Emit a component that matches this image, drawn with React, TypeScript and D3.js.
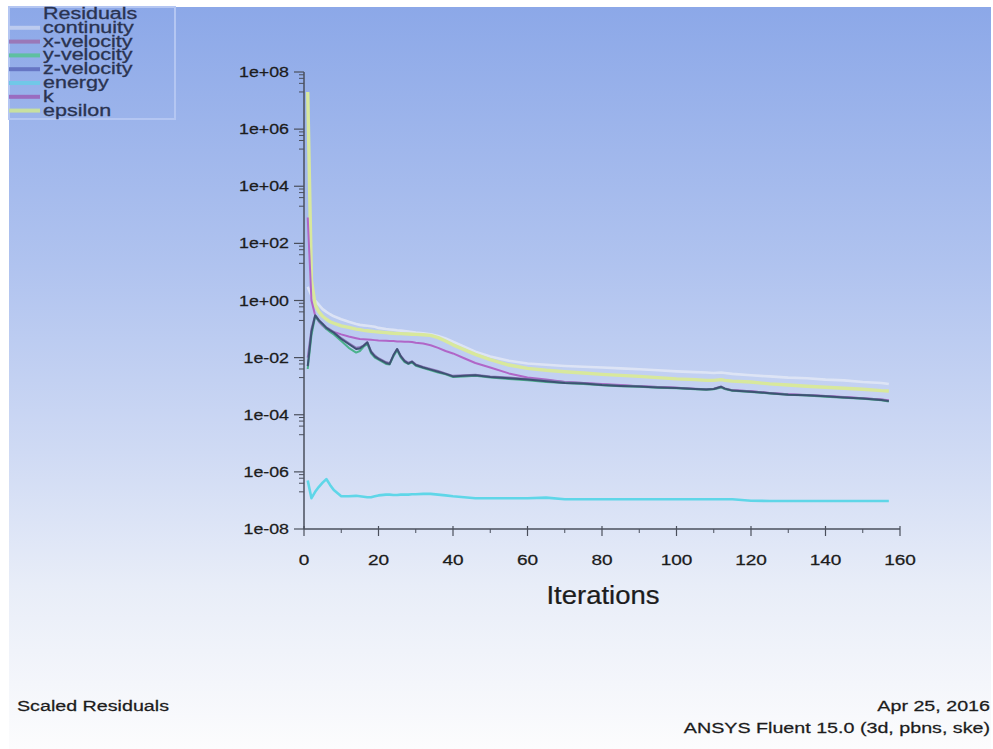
import React from "react";
import * as d3 from "d3";

// ---------- data ----------
const iterations = [1,2,3,4,5,6,7,8,10,12,14,15,16,17,18,19,20,22,23,24,25,26,27,28,29,30,32,34,36,38,40,43,46,50,55,60,65,70,75,80,85,90,95,100,105,108,110,112,113,115,120,125,130,135,140,145,150,155,157];

const continuity = [3,1.5,1.0,0.7,0.5,0.4,0.33,0.28,0.22,0.18,0.15,0.14,0.135,0.13,0.125,0.12,0.11,0.1,0.097,0.094,0.09,0.088,0.085,0.082,0.079,0.075,0.071,0.066,0.057,0.047,0.036,0.024,0.016,0.011,0.0078,0.0062,0.0056,0.0051,0.0048,0.0045,0.0042,0.0039,0.0036,0.0033,0.0031,0.003,0.0029,0.003,0.0029,0.0027,0.0024,0.0022,0.002,0.0019,0.0017,0.0016,0.0014,0.0013,0.0012];

const xVelocity = [0.01,0.1,0.31,0.21,0.155,0.115,0.095,0.078,0.048,0.032,0.022,0.023,0.027,0.035,0.017,0.012,0.0095,0.007,0.0064,0.012,0.02,0.0115,0.008,0.0066,0.0074,0.0058,0.0047,0.004,0.0034,0.0028,0.0023,0.0024,0.0025,0.0022,0.002,0.0018,0.0016,0.0014,0.0013,0.00115,0.00106,0.001,0.00093,0.00088,0.00082,0.00078,0.00082,0.00097,0.00084,0.00072,0.00066,0.00058,0.00052,0.00049,0.00045,0.00041,0.00038,0.00034,0.00031];

const yVelocity = [0.004,0.06,0.28,0.19,0.14,0.1,0.08,0.065,0.038,0.022,0.015,0.017,0.024,0.03,0.014,0.01,0.0085,0.006,0.0058,0.011,0.018,0.01,0.007,0.006,0.0068,0.0052,0.0043,0.0036,0.003,0.0026,0.0021,0.0022,0.0023,0.002,0.0018,0.0016,0.0014,0.0013,0.0012,0.00108,0.001,0.00095,0.00088,0.00084,0.00078,0.00075,0.00078,0.0009,0.0008,0.00069,0.00063,0.00056,0.0005,0.00047,0.00043,0.00039,0.00036,0.00032,0.00029];

const zVelocity = [0.005,0.08,0.3,0.2,0.15,0.11,0.09,0.075,0.045,0.03,0.02,0.021,0.026,0.034,0.016,0.011,0.009,0.0065,0.006,0.012,0.02,0.011,0.0075,0.0062,0.0072,0.0055,0.0045,0.0038,0.0032,0.0027,0.0022,0.0023,0.0024,0.0021,0.0019,0.0017,0.0015,0.0013,0.00125,0.0011,0.00102,0.00097,0.0009,0.00086,0.0008,0.00076,0.0008,0.00095,0.00082,0.0007,0.00064,0.00057,0.0005,0.00048,0.00044,0.0004,0.00037,0.00033,0.0003];

const energy = [5e-7,1.2e-7,2e-7,3e-7,4.2e-7,5.6e-7,3.5e-7,2.3e-7,1.4e-7,1.4e-7,1.45e-7,1.4e-7,1.35e-7,1.3e-7,1.3e-7,1.4e-7,1.5e-7,1.6e-7,1.6e-7,1.55e-7,1.55e-7,1.6e-7,1.6e-7,1.6e-7,1.65e-7,1.65e-7,1.7e-7,1.7e-7,1.6e-7,1.5e-7,1.4e-7,1.3e-7,1.2e-7,1.2e-7,1.2e-7,1.2e-7,1.25e-7,1.1e-7,1.1e-7,1.1e-7,1.1e-7,1.1e-7,1.1e-7,1.1e-7,1.1e-7,1.1e-7,1.1e-7,1.1e-7,1.1e-7,1.1e-7,9.8e-8,9.6e-8,9.5e-8,9.5e-8,9.5e-8,9.5e-8,9.5e-8,9.5e-8,9.5e-8];

const kResidual = [800,1.0,0.3,0.18,0.13,0.1,0.09,0.08,0.065,0.055,0.048,0.045,0.044,0.043,0.042,0.041,0.04,0.039,0.038,0.038,0.037,0.037,0.036,0.036,0.035,0.033,0.031,0.027,0.022,0.017,0.014,0.0095,0.0065,0.0045,0.0028,0.002,0.0017,0.0014,0.0013,0.0012,0.0011,0.001,0.00093,0.00088,0.0008,0.00078,0.0008,0.00092,0.0008,0.00072,0.00066,0.00058,0.00052,0.00048,0.00045,0.00042,0.00038,0.00034,0.00032];

const epsilon = [2e7,5,0.7,0.4,0.28,0.22,0.18,0.16,0.13,0.115,0.1,0.095,0.09,0.087,0.084,0.081,0.079,0.075,0.073,0.071,0.07,0.069,0.068,0.067,0.066,0.065,0.063,0.06,0.05,0.038,0.028,0.019,0.013,0.0085,0.0055,0.0042,0.0036,0.0032,0.0029,0.0026,0.0024,0.0022,0.002,0.0018,0.0017,0.0016,0.0016,0.0017,0.0016,0.0015,0.0014,0.0012,0.0011,0.001,0.00092,0.00085,0.00078,0.0007,0.00068];

const seriesNames = ["continuity","x-velocity","y-velocity","z-velocity","energy","k","epsilon"];
const seriesValues = [continuity,xVelocity,yVelocity,zVelocity,energy,kResidual,epsilon];
const seriesColors = ["#e2e8f6","#8e74b8","#4cb28c","#3e5274","#5fd6e8","#b066c8","#d8e89c"];
const legendColors = ["#bccbef","#9a78b8","#5ec0a0","#6676c4","#70c8e8","#9a6cc0","#c8e0a0"];
const drawOrder = [0,6,5,1,2,3,4];

const yTickValues = [1e8,1e6,1e4,1e2,1,1e-2,1e-4,1e-6,1e-8];
const yTickLabels = ["1e+08","1e+06","1e+04","1e+02","1e+00","1e-02","1e-04","1e-06","1e-08"];
const xTickValues = [0,20,40,60,80,100,120,140,160];
const xMinorTicks = [10,30,50,70,90,110,130,150];
const minorFactors = [0.8,0.6,0.4,0.2];

const FONT = "'Liberation Sans', Arial, sans-serif";

function T({ x, y, anchor = "start", size, sx = 1.27, fill = "#1c1c1c", children, weight = "normal" }: any) {
  return (
    <text
      transform={`translate(${x},${y}) scale(${sx},1)`}
      textAnchor={anchor}
      fontSize={size}
      fontFamily={FONT}
      fontWeight={weight}
      fill={fill}
      stroke={fill}
      strokeWidth={0.25}
    >
      {children}
    </text>
  );
}

export default function App() {
  const W = 993, H = 749;
  const xs = d3.scaleLinear().domain([0, 160]).range([304, 900]);
  const ys = d3.scaleLog().domain([1e-8, 1e8]).range([529, 72]);
  const axisX = 304;
  const axisY = 529;

  const line = d3
    .line<[number, number]>()
    .x((d) => xs(d[0]))
    .y((d) => ys(d[1]));

  const legendRows = ["Residuals", ...seriesNames];
  const widths: Record<number, number> = { 0: 2.6, 6: 3.4, 4: 2.6 };

  return (
    <div style={{ position: "absolute", left: 0, top: 0 }}>
      <svg width={W} height={H} style={{ display: "block" }}>
        <defs>
          <linearGradient id="bg" x1="0" y1="0" x2="0" y2="1">
            <stop offset="0" stopColor="#8ca8e8" />
            <stop offset="0.35" stopColor="#b0c3ef" />
            <stop offset="0.6" stopColor="#cfdaf4" />
            <stop offset="0.78" stopColor="#e8edf8" />
            <stop offset="1" stopColor="#fcfcfd" />
          </linearGradient>
        </defs>
        <rect x={0} y={0} width={W} height={H} fill="#ffffff" />
        <rect x={9} y={7} width={982} height={742} fill="url(#bg)" />

        {/* legend */}
        <rect x={9} y={7} width={166} height={112} fill="none" stroke="#b4c6f2" strokeWidth={2} />
        {legendRows.map((name, i) => {
          const base = 19 + i * 13.8;
          return (
            <g key={name}>
              {i > 0 && (
                <line x1={9} x2={40} y1={base - 5} y2={base - 5} stroke={legendColors[i - 1]} strokeWidth={4} />
              )}
              <text
                transform={`translate(43,${base}) scale(1,0.8)`}
                fontSize={21.5}
                fontFamily={FONT}
                fill="#2a3350"
                stroke="#2a3350"
                strokeWidth={0.4}
              >
                {name}
              </text>
            </g>
          );
        })}

        {/* series */}
        {drawOrder.map((si) => {
          const pts = iterations.map((it, j) => [it, seriesValues[si][j]] as [number, number]);
          return (
            <path
              key={seriesNames[si]}
              d={line(pts) || ""}
              fill="none"
              stroke={seriesColors[si]}
              strokeWidth={widths[si] ?? 2}
              strokeLinejoin="round"
              opacity={si === 0 ? 0.85 : 1}
            />
          );
        })}

        {/* y axis */}
        <line x1={axisX} x2={axisX} y1={ys(1e8)} y2={axisY} stroke="#4a4f5c" strokeWidth={1.5} />
        {yTickValues.map((v, i) => (
          <g key={yTickLabels[i]}>
            <line x1={axisX - 10} x2={axisX} y1={ys(v)} y2={ys(v)} stroke="#4a4f5c" strokeWidth={1.2} />
            {i < yTickValues.length - 1 &&
              minorFactors.map((f) => (
                <line
                  key={f}
                  x1={axisX - 5}
                  x2={axisX}
                  y1={ys(v * f)}
                  y2={ys(v * f)}
                  stroke="#4a4f5c"
                  strokeWidth={1}
                />
              ))}
            <T x={289} y={ys(v) + 5} anchor="end" size={14}>
              {yTickLabels[i]}
            </T>
          </g>
        ))}

        {/* x axis */}
        <line x1={axisX} x2={xs(160)} y1={axisY} y2={axisY} stroke="#4a4f5c" strokeWidth={1.5} />
        {xTickValues.map((v) => (
          <g key={v}>
            <line x1={xs(v)} x2={xs(v)} y1={axisY - 3} y2={axisY + 7} stroke="#4a4f5c" strokeWidth={1.2} />
            <T x={xs(v)} y={565} anchor="middle" size={15}>
              {String(v)}
            </T>
          </g>
        ))}
        {xMinorTicks.map((v) => (
          <line key={v} x1={xs(v)} x2={xs(v)} y1={axisY} y2={axisY + 4} stroke="#4a4f5c" strokeWidth={1} />
        ))}
        <T x={603} y={604} anchor="middle" size={25} sx={1.1}>
          Iterations
        </T>

        {/* footer */}
        <T x={17} y={711} size={15.5}>
          Scaled Residuals
        </T>
        <T x={990} y={711} anchor="end" size={15.5}>
          Apr 25, 2016
        </T>
        <T x={990} y={733} anchor="end" size={15.5}>
          ANSYS Fluent 15.0 (3d, pbns, ske)
        </T>
      </svg>
    </div>
  );
}
